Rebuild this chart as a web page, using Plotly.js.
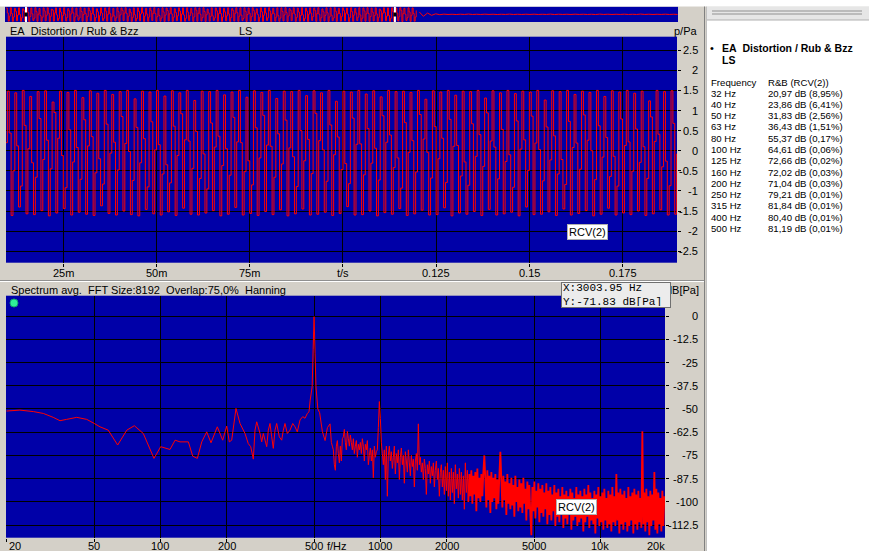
<!DOCTYPE html>
<html><head><meta charset="utf-8">
<script src="https://cdn.plot.ly/plotly-3.0.1.min.js"></script>
<style>html,body{margin:0;padding:0;background:#fff;overflow:hidden}#chart{width:869px;height:551px}</style>
</head><body><div id="chart"></div>
<script>
// ---------- DATA ----------
// time signal (sound pressure p/Pa), sampled every 0.5 ms from t = 0
const waveStart = 0.0, waveStep = 0.0005;
const waveP = [
1.46,0.32,-1.55,-0.41, 1.50,0.18,-1.60,-0.62, 1.38,0.71,-1.47,-0.15, 1.49,-0.05,-1.58,-0.77, 1.27,0.90,-1.52,0.20,
1.48,0.44,-1.61,-0.50, 1.44,0.12,-1.40,-0.88, 1.50,0.63,-1.57,0.05, 1.35,-0.30,-1.59,-0.66, 1.47,0.80,-1.49,-0.22,
1.49,0.26,-1.62,-0.45, 1.21,0.95,-1.55,0.31, 1.48,-0.12,-1.44,-0.92, 1.45,0.52,-1.60,-0.28, 1.50,0.08,-1.53,-0.71,
1.32,0.77,-1.58,0.12, 1.49,0.35,-1.61,-0.55, 1.43,-0.20,-1.37,-0.83, 1.50,0.66,-1.56,-0.06, 1.40,0.21,-1.60,-0.48,
1.47,0.85,-1.50,0.18, 1.50,-0.02,-1.59,-0.74, 1.29,0.58,-1.62,-0.30, 1.48,0.30,-1.46,-0.90, 1.46,0.72,-1.57,0.02,
1.50,0.15,-1.60,-0.58, 1.36,-0.35,-1.52,-0.80, 1.49,0.61,-1.61,-0.12, 1.44,0.92,-1.43,0.27, 1.50,0.24,-1.58,-0.44,
1.25,0.48,-1.60,-0.69, 1.48,-0.08,-1.55,-0.95, 1.47,0.69,-1.49,0.09, 1.50,0.36,-1.62,-0.37, 1.39,0.05,-1.58,-0.61,
1.46,0.83,-1.41,0.22, 1.50,0.20,-1.60,-0.52, 1.33,-0.25,-1.56,-0.85, 1.49,0.57,-1.61,-0.18, 1.45,0.88,-1.51,0.14,
1.50,0.11,-1.59,-0.66, 1.30,0.42,-1.47,-0.33, 1.48,0.76,-1.62,0.07, 1.47,-0.15,-1.57,-0.89, 1.50,0.50,-1.45,-0.25,
1.37,0.28,-1.60,-0.57, 1.49,0.93,-1.58,0.25, 1.44,0.02,-1.53,-0.76, 1.50,0.64,-1.61,-0.10, 1.23,0.34,-1.56,-0.47,
1.48,-0.32,-1.39,-0.82, 1.46,0.81,-1.60,0.16, 1.50,0.17,-1.59,-0.60, 1.41,0.55,-1.50,-0.31, 1.49,0.06,-1.62,-0.73,
1.34,0.87,-1.54,0.21, 1.50,0.39,-1.58,-0.42, 1.47,-0.18,-1.44,-0.93, 1.48,0.70,-1.61,-0.04, 1.45,0.25,-1.57,-0.53,
1.50,0.90,-1.48,0.29, 1.28,-0.04,-1.60,-0.68, 1.49,0.60,-1.59,-0.20, 1.46,0.31,-1.42,-0.79, 1.50,0.78,-1.62,0.11,
1.38,0.13,-1.55,-0.63, 1.48,-0.28,-1.58,-0.86, 1.47,0.67,-1.51,-0.14, 1.50,0.40,-1.61,-0.39, 1.31,0.94,-1.46,0.24,
1.49,0.09,-1.60,-0.70, 1.44,0.53,-1.57,-0.27, 1.50,-0.10,-1.53,-0.91, 1.42,0.74,-1.62,0.04, 1.48,0.27,-1.40,-0.49,
1.46,0.86,-1.59,0.19, 1.50,0.03,-1.58,-0.75, 1.26,0.59,-1.52,-0.23, 1.49,0.37,-1.61,-0.58, 1.47,-0.22,-1.45,-0.84,
1.50,0.73,-1.60,0.08, 1.40,0.19,-1.56,-0.46, 1.48,0.89,-1.49,0.26, 1.45,0.00,-1.62,-0.72, 1.50,0.62,-1.58,-0.16,
1.35,0.33,-1.43,-0.64, 1.49,-0.14,-1.60,-0.88, 1.46,0.79,-1.55,0.13, 1.50,0.22,-1.59,-0.51, 1.43,0.54,-1.50,-0.29,
1.48,0.10,-1.61,-0.69, 1.24,0.84,-1.57,0.23, 1.50,0.41,-1.47,-0.40, 1.47,-0.26,-1.60,-0.87, 1.49,0.68,-1.58,-0.08,
1.44,0.29,-1.52,-0.55, 1.50,0.91,-1.62,0.17, 1.39,0.04,-1.41,-0.77, 1.48,0.56,-1.59,-0.21, 1.46,0.20,-1.56,-0.60,
0.90
];
// after the tone (overview strip only), sampled every 2 ms
const tailStart = 0.2015, tailStep = 0.002;
const tailP = [0.55,-0.45,0.30,-0.22,0.12,-0.08,0.05,-0.03,0.02,-0.04,0.03,-0.02,0.06,-0.03,0.02,-0.03,
0.04,-0.02,0.03,-0.04,0.02,-0.02,0.05,-0.03,0.02,-0.03,0.03,-0.02,0.04,-0.03,0.02,-0.02,0.05,-0.04,
0.03,-0.02,0.02,-0.03,0.04,-0.02,0.03,-0.03,0.02,-0.04,0.05,-0.02,0.03,-0.03,0.02,-0.02,0.04,-0.03,
0.02,-0.03,0.06,-0.02,0.03,-0.03,0.02,-0.02,0.04,-0.03,0.02,-0.02];

// spectrum, low part: explicit frequencies (Hz) and levels (dB[Pa])
const lowF = [20.0,23.0,26.5,29.4,32.6,35.0,37.5,41.7,46.3,50.1,53.2,58.0,64.0,70.4,76.2,83.7,93.6,100.4,110.7,116.7,
122.9,134.1,140.4,147.3,154.3,162.5,170.0,181.6,192.1,200.4,205.9,211.1,220.8,230.3,242.7,251,257.6,264.7,269.4,274.3,
284,289,293.9,304.6,309.7,315.2,320.9,326.3,332.2,338.1,347.5,356.2,362.4,368.7,377.9,388.6,399.8,409.6,419.5,431.5,
444,454.8,465.8,474.1,480,490,495,500,505,510,520,530,545,561,575,591];
const lowDb = [-51.1,-50.6,-51.4,-52.4,-54.5,-56.3,-55.6,-54.5,-55.6,-57.8,-59.6,-61.4,-69.4,-61.4,-59.0,-63.2,-76.6,-70.3,-71.8,-66.8,
-67.7,-67.7,-75.4,-76.6,-67.7,-62.3,-68.2,-59.6,-66.8,-59.2,-67.7,-66.8,-49.7,-57.8,-63.2,-68.6,-70.3,-77.0,-61.4,-56.9,
-63.2,-67.7,-63.2,-70.3,-61.4,-57.8,-65.0,-71.2,-61.4,-57.8,-65.0,-66.8,-61.4,-57.8,-63.2,-61.4,-57.8,-59.6,-62.3,-55.9,
-54.1,-55.0,-52.4,-51.5,-45.2,-38,-18,-0.3,-20,-38,-50,-52,-62,-67,-60,-58];
// spectrum, high part: log-spaced bins from 599 Hz, 220 bins per decade
const highStart = 599, highPerDecade = 220;
const highDb = [
-68,-70,-72,-80,-83,-70,-67,-74,-79,-70, -78,-66,-65,-61,-68,-72,-62,-66,-70,-64,
-68,-72,-66,-74,-70,-67,-76,-69,-72,-68, -74,-66,-70,-78,-69,-72,-67,-80,-75,-71,
-78,-72,-87,-70,-76,-73,-72,-60,-46,-55, -68,-74,-80,-72,-88,-70,-97,-75,-70,-78,
-73,-82,-76,-70,-85,-74,-79,-72,-88,-76, -71,-80,-75,-90,-73,-78,-84,-72,-79,-86,
-75,-81,-77,-92,-78,-74,-83,-58,-80,-76, -84,-79,-88,-77,-82,-96,-80,-85,-78,-90,
-81,-86,-79,-92,-83,-78,-88,-82,-97,-84,
-80,-92,-83,-96,-81,-94,-79,-97,-84,-99, -82,-95,-84,-101,-80,-93,-85,-98,-82,-96,
-84,-99,-86,-104,-79,-95,-83,-100,-85,-97, -83,-101,-86,-96,-84,-105,-82,-98,-87,-100,
-85,-97,-84,-75,-88,-103,-83,-99,-86,-106, -84,-100,-87,-98,-85,-104,-88,-101,-86,-73,
-88,-103,-86,-99,-89,-107,-85,-101,-90,-104, -87,-102,-91,-108,-86,-100,-92,-105,-88,-103,
-90,-106,-87,-101,-93,-110,-89,-104,-91,-107, -118,-92,-105,-89,-109,-94,-103,-90,-111,-93,
-106,-91,-108,-95,-104,-90,-112,-94,-107,-92, -110,-96,-105,-91,-113,-95,-108,-93,-111,-97,
-106,-92,-114,-96,-109,-94,-112,-97,-107,-93, -115,-95,-110,-98,-108,-92,-113,-96,-111,-94,
-109,-97,-116,-93,-111,-96,-108,-91,-114,-95, -110,-98,-112,-94,-117,-96,-109,-92,-113,-97,
-111,-95,-115,-93,-110,-98,-114,-94,-112,-96, -116,-92,-111,-97,-113,-85,-110,-95,-117,-93,
-112,-96,-115,-94,-111,-98,-116,-92,-113,-97, -110,-95,-117,-93,-112,-96,-115,-94,-111,-98,
-114,-62,-112,-95,-116,-93,-111,-97,-118,-94, -113,-96,-110,-84,-115,-93,-117,-95,-112,-98,
-116,-94,-113,-97
];
// the dense (noise-floor) part of the spectrum starts at this bin
const denseFromBin = 137;

// axes / ticks
const topRange = [0.00963, 0.1896];
const topXTicks = [0.025,0.05,0.075,0.1,0.125,0.15,0.175];
const topXLabels = ['25m','50m','75m','t/s','0.125','0.15','0.175'];
const topYTicks = [2.5,2,1.5,1,0.5,0,-0.5,-1,-1.5,-2,-2.5];
const topYLabels = ['2.5','2','1.5','1','0.5','0','-0.5','-1','-1.5','-2','-2.5'];
const specXTicks = [20,50,100,200,500,1000,2000,5000,10000,20000];
const specXLabels = ['20','50','100','200','500','1000','2000','5000','10k','20k'];
const specYTicks = [0,-12.5,-25,-37.5,-50,-62.5,-75,-87.5,-100,-112.5];
const specYLabels = ['0','-12.5','-25','-37.5','-50','-62.5','-75','-87.5','-100','-112.5'];

// Rub & Buzz result table
const rbFreq = ['32 Hz','40 Hz','50 Hz','63 Hz','80 Hz','100 Hz','125 Hz','160 Hz','200 Hz','250 Hz','315 Hz','400 Hz','500 Hz'];
const rbDb = ['20,97','23,86','31,83','36,43','55,37','64,61','72,66','72,02','71,04','79,21','81,84','80,40','81,19'];
const rbPct = ['8,95','6,41','2,56','1,51','0,17','0,06','0,02','0,03','0,03','0,01','0,01','0,01','0,01'];

// ---------- BUILD ----------
const W = 869, H = 551;
const px = x => x / W, py = y => 1 - y / H;
const NB = '\u00a0';
const waveT = waveP.map((_, i) => waveStart + i * waveStep);
const tailT = tailP.map((_, i) => tailStart + i * tailStep);
const highF = highDb.map((_, i) => highStart * Math.pow(10, i / highPerDecade));
const specF1 = lowF.concat(highF.slice(0, denseFromBin + 1));
const specDb1 = lowDb.concat(highDb.slice(0, denseFromBin + 1));
const specF2 = highF.slice(denseFromBin), specDb2 = highDb.slice(denseFromBin);
const xSpecRange = [1.2986, 4.294];

const RED = '#ff0000', BLUE = '#0000a8', GRAY = '#d4d0c8';
const FONT = 'Liberation Sans, Arial, sans-serif';

const traces = [
  {x: waveT, y: waveP, xaxis: 'x', yaxis: 'y', type: 'scatter', mode: 'lines',
   line: {color: RED, width: 1, shape: 'hv', simplify: false}, hoverinfo: 'skip'},
  {x: specF1, y: specDb1, xaxis: 'x2', yaxis: 'y2', type: 'scatter', mode: 'lines',
   line: {color: RED, width: 1, simplify: false}, hoverinfo: 'skip'},
  {x: specF2, y: specDb2, xaxis: 'x2', yaxis: 'y2', type: 'scatter', mode: 'lines',
   line: {color: RED, width: 1.8, simplify: false}, hoverinfo: 'skip'},
  {x: waveT, y: waveP, xaxis: 'x3', yaxis: 'y3', type: 'scatter', mode: 'lines',
   line: {color: RED, width: 1, shape: 'hv', simplify: false}, hoverinfo: 'skip'},
  {x: tailT, y: tailP, xaxis: 'x3', yaxis: 'y3', type: 'scatter', mode: 'lines',
   line: {color: RED, width: 1, simplify: false}, hoverinfo: 'skip'}
];

const ann = [];
const txt = (text, x, y, o) => ann.push(Object.assign({text, x, y, xref: 'paper', yref: 'paper', showarrow: false,
  xanchor: 'left', yanchor: 'middle', font: {family: FONT, size: 11, color: '#000'}}, o || {}));

// headers
txt('EA' + NB + NB + 'Distortion / Rub & Bzz', px(8), py(31));
txt('LS', px(237), py(31));
txt('p/Pa', px(700), py(31), {xanchor: 'right'});
txt('Spectrum avg.' + NB + NB + 'FFT Size:8192' + NB + NB + 'Overlap:75,0%' + NB + NB + 'Hanning', px(9), py(289.5));
txt('dB[Pa]', px(701), py(289.5), {xanchor: 'right'});

// top plot tick labels
topXTicks.forEach((v, i) => ann.push({text: topXLabels[i], x: v, y: py(272.5), xref: 'x', yref: 'paper', showarrow: false,
  xanchor: 'center', yanchor: 'middle', font: {family: FONT, size: 11, color: '#000'}}));
topYTicks.forEach((v, i) => ann.push({text: topYLabels[i], x: px(700), y: v, xref: 'paper', yref: 'y', showarrow: false,
  xanchor: 'right', yanchor: 'middle', font: {family: FONT, size: 11, color: '#000'}}));
// spectrum tick labels (positioned through the log axis scale, paper fraction)
const logFrac = v => px(6) + (Math.log10(v) - xSpecRange[0]) / (xSpecRange[1] - xSpecRange[0]) * (px(665) - px(6));
specXTicks.forEach((v, i) => ann.push({text: specXLabels[i], x: logFrac(v), y: py(546), xref: 'paper', yref: 'paper', showarrow: false,
  xanchor: i === 0 ? 'left' : (i === specXTicks.length - 1 ? 'right' : 'center'), yanchor: 'middle',
  font: {family: FONT, size: 11, color: '#000'}}));
txt('f/Hz', px(325), py(546));
specYTicks.forEach((v, i) => ann.push({text: specYLabels[i], x: px(700), y: v, xref: 'paper', yref: 'y2', showarrow: false,
  xanchor: 'right', yanchor: 'middle', font: {family: FONT, size: 11, color: '#000'}}));

// trace labels
txt('RCV(2)', px(567), py(232), {bgcolor: '#ffffff', bordercolor: '#b0b0b0', borderwidth: 1, borderpad: 1});
txt('RCV(2)', px(556), py(506.5), {bgcolor: '#ffffff', bordercolor: '#b0b0b0', borderwidth: 1, borderpad: 1});

// cursor readout
txt('X:3003.95' + NB + 'Hz<br>Y:-71.83' + NB + 'dB[Pa]', px(561), py(282), {yanchor: 'top', align: 'left',
  width: 106, height: 22, valign: 'middle',
  bgcolor: '#ececec', bordercolor: '#707070', borderwidth: 1, borderpad: 1,
  font: {family: 'Liberation Mono, Courier New, monospace', size: 11, color: '#000'}});

// right panel
const RF = {family: FONT, size: 9.6, color: '#000'};
txt('\u2022', px(708), py(48), {font: {family: FONT, size: 11, color: '#000'}});
txt('<b>EA' + NB + NB + 'Distortion / Rub & Bzz</b>', px(720), py(48), {font: {family: FONT, size: 10.5, color: '#000'}});
txt('<b>LS</b>', px(720), py(60), {font: {family: FONT, size: 10.5, color: '#000'}});
txt('Frequency', px(709), py(82), {font: RF});
txt('R&B (RCV(2))', px(766), py(82), {font: RF});
rbFreq.forEach((f, i) => {
  const y = py(93 + i * 11.3);
  txt(f, px(709), y, {font: RF});
  txt(rbDb[i] + ' dB (' + rbPct[i] + '%)', px(766), y, {font: RF});
});

const shapes = [
  // white top edge
  {type: 'rect', xref: 'paper', yref: 'paper', x0: 0, x1: 1, y0: py(6.5), y1: 1, fillcolor: '#ffffff', line: {width: 0}, layer: 'below'},
  // right panel
  {type: 'rect', xref: 'paper', yref: 'paper', x0: px(706), x1: 1, y0: 0, y1: py(6.5), fillcolor: '#ffffff', line: {width: 0}, layer: 'below'},
  {type: 'line', xref: 'paper', yref: 'paper', x0: px(704.5), x1: px(704.5), y0: 0, y1: py(6.5), line: {color: '#808080', width: 1}},
  {type: 'line', xref: 'paper', yref: 'paper', x0: px(706.5), x1: px(706.5), y0: 0, y1: py(6.5), line: {color: '#c0c0c0', width: 1}},
  {type: 'rect', xref: 'paper', yref: 'paper', x0: px(707), x1: 1, y0: py(20), y1: py(6.5), fillcolor: '#e6e6e6', line: {width: 0}},
  {type: 'line', xref: 'paper', yref: 'paper', x0: px(712), x1: px(862), y0: py(11), y1: py(11), line: {color: '#909090', width: 1}},
  {type: 'line', xref: 'paper', yref: 'paper', x0: px(712), x1: px(862), y0: py(14), y1: py(14), line: {color: '#909090', width: 1}},
  {type: 'line', xref: 'paper', yref: 'paper', x0: px(707), x1: 1, y0: py(20), y1: py(20), line: {color: '#b0b0b0', width: 1}},
  // separator between the two plots
  {type: 'line', xref: 'paper', yref: 'paper', x0: 0, x1: px(704), y0: py(280.5), y1: py(280.5), line: {color: '#909090', width: 1}},
  {type: 'line', xref: 'paper', yref: 'paper', x0: 0, x1: px(704), y0: py(281.5), y1: py(281.5), line: {color: '#ffffff', width: 1}},
  // view window markers in the overview strip
  {type: 'line', xref: 'x3', yref: 'paper', x0: topRange[0], x1: topRange[0], y0: py(22), y1: py(6.7), line: {color: '#ffffff', width: 2}},
  {type: 'line', xref: 'x3', yref: 'paper', x0: topRange[1], x1: topRange[1], y0: py(22), y1: py(6.7), line: {color: '#ffffff', width: 2}},
  {type: 'line', xref: 'x3', yref: 'paper', x0: topRange[0], x1: topRange[0], y0: py(16.5), y1: py(12.5), line: {color: '#000000', width: 3}},
  {type: 'line', xref: 'x3', yref: 'paper', x0: topRange[1], x1: topRange[1], y0: py(16.5), y1: py(12.5), line: {color: '#000000', width: 3}},
  // status lamp
  {type: 'circle', xref: 'paper', yref: 'paper', x0: px(10), x1: px(18), y0: py(307), y1: py(299), fillcolor: '#30f098', line: {color: '#10a070', width: 1}}
];

const gridAx = {showgrid: true, gridcolor: '#000000', gridwidth: 1, zeroline: false, showticklabels: false,
  ticks: 'outside', ticklen: 3, tickcolor: '#000000', showline: false, fixedrange: true};

const layout = {
  width: W, height: H, margin: {l: 0, r: 0, t: 0, b: 0, pad: 0},
  paper_bgcolor: GRAY, plot_bgcolor: BLUE, showlegend: false,
  xaxis: Object.assign({}, gridAx, {domain: [px(6), px(677)], range: topRange, tickvals: topXTicks, anchor: 'y'}),
  yaxis: Object.assign({}, gridAx, {domain: [py(262.7), py(36.7)], range: [-2.786, 2.836], tickvals: topYTicks, side: 'right', anchor: 'x'}),
  xaxis2: Object.assign({}, gridAx, {type: 'log', domain: [px(6), px(665)], range: xSpecRange, tickvals: specXTicks, anchor: 'y2'}),
  yaxis2: Object.assign({}, gridAx, {domain: [py(537.7), py(295.7)], range: [-119.3, 11.0], tickvals: specYTicks, side: 'right', anchor: 'x2'}),
  xaxis3: {domain: [px(5), px(678)], range: [-0.0006, 0.3277], showgrid: false, zeroline: false, showticklabels: false, ticks: '', anchor: 'y3', fixedrange: true},
  yaxis3: {domain: [py(22), py(6.7)], range: [-1.75, 1.75], showgrid: false, zeroline: false, showticklabels: false, ticks: '', anchor: 'x3', fixedrange: true},
  annotations: ann, shapes: shapes
};

Plotly.newPlot('chart', traces, layout, {displayModeBar: false, staticPlot: true});
</script></body></html>
